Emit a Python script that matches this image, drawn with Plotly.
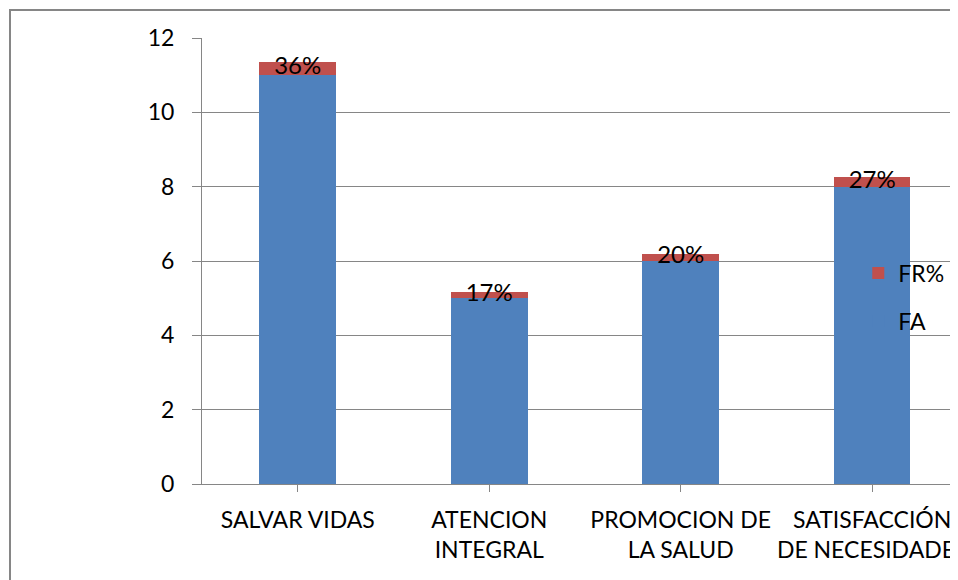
import plotly.graph_objects as go

CATEGORIES = ["SALVAR VIDAS", "ATENCION<br>INTEGRAL", "PROMOCION DE<br>LA SALUD",
              "SATISFACCIÓN<br>DE NECESIDADES"]
FA = [11, 5, 6, 8]
FR = [0.36, 0.17, 0.20, 0.27]
FR_LABELS = ["36%", "17%", "20%", "27%"]

BLUE = "#4F81BD"
RED = "#C0504D"
GRID = "#868686"
FONT = "Lato"

x_idx = list(range(len(CATEGORIES)))

fig = go.Figure()
fig.add_bar(x=x_idx, y=FA, name="FA", marker_color=BLUE, marker_line_width=0,
            legendgroup="fa", legendrank=2)
fig.add_bar(x=x_idx, y=FR, name="FR%", marker_color=RED, marker_line_width=0,
            legendgroup="fr", legendrank=1)
fig.add_trace(go.Scatter(
    x=x_idx, y=[a + b / 2 for a, b in zip(FA, FR)], mode="text",
    text=FR_LABELS, textposition="middle center",
    textfont=dict(family=FONT, size=24, color="black"),
    showlegend=False, hoverinfo="skip",
))

# outer chart frame (only left and top edges are visible)
fig.add_shape(type="path", xref="paper", yref="paper",
              path="M -0.2513 -0.3 L -0.2513 1.0628 L 1.1 1.0628",
              line=dict(color=GRID, width=2))

fig.update_layout(
    barmode="stack",
    bargap=0.6,
    width=958, height=580,
    margin=dict(l=194, r=0, t=30, b=104, autoexpand=False),
    plot_bgcolor="white",
    paper_bgcolor="white",
    font=dict(family=FONT, size=23, color="black"),
    legend=dict(
        x=0.859, y=0.521, xanchor="left", yanchor="top",
        traceorder="grouped", tracegroupgap=15,
        bgcolor="rgba(0,0,0,0)", font=dict(size=23),
        itemwidth=30,
    ),
)
fig.update_xaxes(
    range=[-0.5, 3.49], automargin=False,
    tickmode="array", tickvals=x_idx, ticktext=CATEGORIES,
    tickson="boundaries", ticks="outside", ticklen=7, tickcolor=GRID,
    showline=True, linecolor=GRID, linewidth=1,
    showgrid=False, zeroline=False,
    tickangle=0, ticklabelstandoff=8, ticklabeloverflow="allow",
)
fig.update_yaxes(
    range=[0, 12], dtick=2, automargin=False,
    ticks="outside", ticklen=9, tickcolor=GRID,
    showline=True, linecolor=GRID, linewidth=1,
    showgrid=True, gridcolor=GRID, gridwidth=1,
    zeroline=False, ticklabelstandoff=13,
)

fig.write_html("out.html")
